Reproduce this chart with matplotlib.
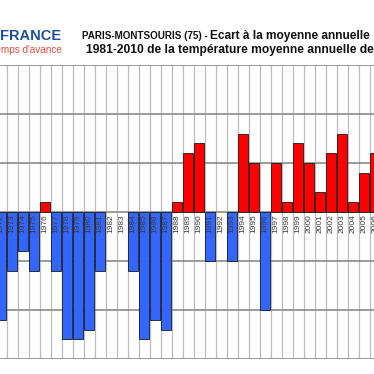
import matplotlib
matplotlib.use('Agg')
import matplotlib.pyplot as plt
import numpy as np

# annual temperature anomaly (degC) vs 1981-2010, Paris-Montsouris
years = list(range(1972, 2007))
anomaly = [-1.1, -0.6, -0.4, -0.6, 0.1, -0.6, -1.3, -1.3, -1.2, -0.6,
           0.0, 0.0, -0.6, -1.3, -1.1, -1.2, 0.1, 0.6, 0.7, -0.5,
           0.0, -0.5, 0.8, 0.5, -1.0, 0.5, 0.1, 0.7, 0.5, 0.2,
           0.6, 0.8, 0.1, 0.4, 0.6]
y_ticks = [-1.5, -1.0, -0.5, 0.0, 0.5, 1.0, 1.5]

plt.rcParams['font.family'] = ['Liberation Sans', 'DejaVu Sans']

W = 374
fig = plt.figure(figsize=(3.74, 3.74), dpi=100)

# plot area runs past both edges of the picture (cropped screenshot)
x0, x1 = 1970.5, 2008.5
col = 11.0
left_px = 7.33 + col * (x0 - 1972.5)
ax = fig.add_axes([left_px / W, (W - 359) / W, (x1 - x0) * col / W, 294 / W])
ax.set_xlim(x0, x1)
ax.set_ylim(-1.5, 1.5)

# grid: light verticals between years, darker horizontals
for b in np.arange(x0, x1 + 0.5, 1.0):
    ax.axvline(b, color='#bdbdbd', lw=0.9, zorder=1)
for t in y_ticks:
    ax.axhline(t, color='#8a8a8a', lw=1.2, zorder=1.5)

for y, v in zip(years, anomaly):
    if v == 0:
        continue
    c = '#ff0000' if v > 0 else '#3366ff'
    ax.bar(y - 0.5, v, width=0.86, align='edge', color=c,
           edgecolor='#1a1a1a', linewidth=0.6, zorder=2)

for y in years:
    ax.text(y - 0.07, -0.02, str(y), rotation=90, ha='center', va='top',
            fontsize=6, color='#3a3a3a', zorder=3)

ax.set_xticks([])
ax.set_yticks([])
for s in ax.spines.values():
    s.set_visible(False)

# logo (cropped)
fig.text(0 / W, 1 - 36 / W, 'FRANCE', fontsize=10.5, fontweight='bold',
         color='#1f4e9a', ha='left', va='center')
fig.text(62 / W, 1 - 50 / W, "Toujours un temps d'avance", fontsize=7.2,
         color='#d9503f', ha='right', va='center')

# title
fig.text(82 / W, 1 - 36 / W, 'PARIS-MONTSOURIS (75) - ', fontsize=7.1,
         fontweight='bold', color='#111111', ha='left', va='center')
fig.text(210 / W, 1 - 36 / W, 'Ecart à la moyenne annuelle',
         fontsize=8.6, fontweight='bold', color='#111111', ha='left', va='center')
fig.text(86 / W, 1 - 50 / W,
         '1981-2010 de la température moyenne annuelle depuis 1900',
         fontsize=8.65, fontweight='bold', color='#111111', ha='left', va='center')

fig.savefig('out.png', dpi=100)
